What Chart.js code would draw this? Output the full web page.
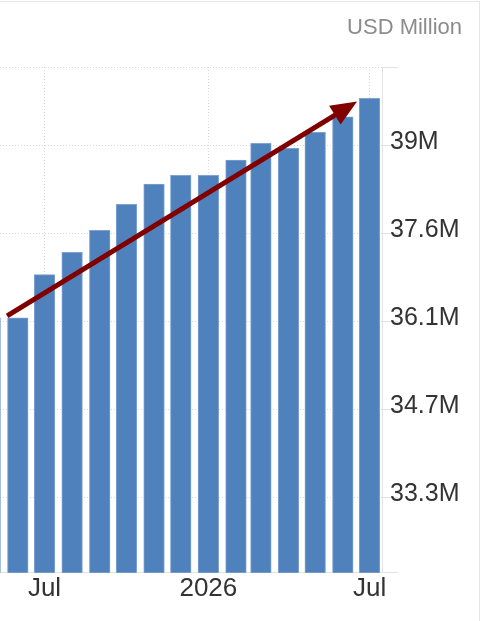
<!DOCTYPE html>
<html>
<head>
<meta charset="utf-8">
<script src="https://cdn.jsdelivr.net/npm/chart.js@4"></script>
<style>
  html, body { margin: 0; padding: 0; background: #ffffff; overflow: hidden; }
  #frame { position: absolute; top: 1px; left: -1px; width: 481px; height: 700px; border: 1px solid #e6e6e6; box-sizing: border-box; }
  #wrap { position: absolute; top: 0; left: 0; width: 479px; height: 621px; }
</style>
</head>
<body>
<div id="frame"></div>
<div id="wrap"><canvas id="c"></canvas></div>
<script>
// ---- data ----
const months = ['2025-05','2025-06','2025-07','2025-08','2025-09','2025-10','2025-11','2025-12',
                '2026-01','2026-02','2026-03','2026-04','2026-05','2026-06','2026-07'];
const values = [36.20, 36.20, 36.90, 37.26, 37.62, 38.04, 38.37, 38.51,
                38.51, 38.76, 39.03, 38.95, 39.21, 39.46, 39.76];   // USD Million
const yTickValues = [33.28, 34.71, 36.14, 37.57, 39.00];
const yTickLabels = ['33.3M', '34.7M', '36.1M', '37.6M', '39M'];
const yRange = [32.06, 40.27];
const xTickMonths = ['2025-07', '2026-01', '2026-07'];
const xTickLabels = ['Jul', '2026', 'Jul'];
const xRange = ['2025-05-12', '2026-07-15'];
const trendFrom = { date: '2025-05-20', value: 36.23 };
const trendTo   = { date: '2026-06-17', value: 39.71 };
const unitLabel = 'USD Million';

// ---- helpers ----
function ts(s) {
  const p = s.split('-').map(Number);
  return Date.UTC(p[0], p[1] - 1, p[2] || 1);
}
const points = months.map((m, i) => ({ x: ts(m), y: values[i] }));
const FONT = "'Liberation Sans', Arial, Helvetica, sans-serif";

const arrowPlugin = {
  id: 'trendArrow',
  afterDatasetsDraw(chart) {
    const xs = chart.scales.x, ys = chart.scales.y, ctx = chart.ctx;
    const x1 = xs.getPixelForValue(ts(trendFrom.date));
    const y1 = ys.getPixelForValue(trendFrom.value);
    const x2 = xs.getPixelForValue(ts(trendTo.date));
    const y2 = ys.getPixelForValue(trendTo.value);
    const ang = Math.atan2(y2 - y1, x2 - x1);
    const headLen = 26, headHalf = 11;
    const bx = x2 - headLen * Math.cos(ang), by = y2 - headLen * Math.sin(ang);
    ctx.save();
    ctx.strokeStyle = '#800000';
    ctx.fillStyle = '#800000';
    ctx.lineWidth = 5;
    ctx.lineCap = 'butt';
    ctx.beginPath();
    ctx.moveTo(x1, y1);
    ctx.lineTo(bx + 2 * Math.cos(ang), by + 2 * Math.sin(ang));
    ctx.stroke();
    ctx.beginPath();
    ctx.moveTo(x2, y2);
    ctx.lineTo(bx + headHalf * Math.sin(ang), by - headHalf * Math.cos(ang));
    ctx.lineTo(bx - headHalf * Math.sin(ang), by + headHalf * Math.cos(ang));
    ctx.closePath();
    ctx.fill();
    ctx.restore();
  }
};

new Chart(document.getElementById('c'), {
  type: 'bar',
  data: {
    datasets: [{
      data: points,
      backgroundColor: '#4f81bd',
      borderColor: '#7fa2d1',
      borderWidth: 1,
      barThickness: 20.6
    }]
  },
  options: {
    responsive: true,
    maintainAspectRatio: false,
    animation: false,
    layout: { padding: { top: 0, left: 0, right: 17, bottom: 17 } },
    plugins: {
      legend: { display: false },
      tooltip: { enabled: false },
      title: {
        display: true,
        text: unitLabel,
        align: 'end',
        color: '#8c8c8c',
        font: { family: FONT, size: 22, weight: 'normal' },
        padding: { top: 15, bottom: 25.6 }
      }
    },
    scales: {
      x: {
        type: 'linear',
        min: ts(xRange[0]),
        max: ts(xRange[1]),
        offset: false,
        afterBuildTicks(scale) {
          scale.ticks = xTickMonths.map(m => ({ value: ts(m) }));
        },
        ticks: {
          autoSkip: false,
          maxRotation: 0,
          padding: 0,
          color: '#333333',
          font: { family: FONT, size: 26 },
          callback(v) {
            const i = xTickMonths.findIndex(m => ts(m) === v);
            return i >= 0 ? xTickLabels[i] : '';
          }
        },
        grid: { display: true, offset: false, color: '#d8d8d8', drawTicks: false, tickLength: 0 },
        border: { display: true, color: '#e3e3e3', width: 1, dash: [1, 2] }
      },
      y: {
        position: 'right',
        min: yRange[0],
        max: yRange[1],
        afterBuildTicks(scale) {
          scale.ticks = [yRange[0], ...yTickValues, yRange[1]].map(v => ({ value: v }));
        },
        afterFit(scale) { scale.width = 80; },
        ticks: {
          padding: -8,
          labelOffset: -3.5,
          color: '#333333',
          font: { family: FONT, size: 25 },
          callback(v) {
            const i = yTickValues.indexOf(v);
            return i >= 0 ? yTickLabels[i] : '';
          }
        },
        grid: { display: true, color: '#d8d8d8', drawTicks: true, tickLength: 16, tickColor: '#e3e3e3', tickBorderDash: [] },
        border: { display: true, color: '#e3e3e3', width: 1, dash: [1, 2] }
      }
    }
  },
  plugins: [arrowPlugin]
});
</script>
</body>
</html>
